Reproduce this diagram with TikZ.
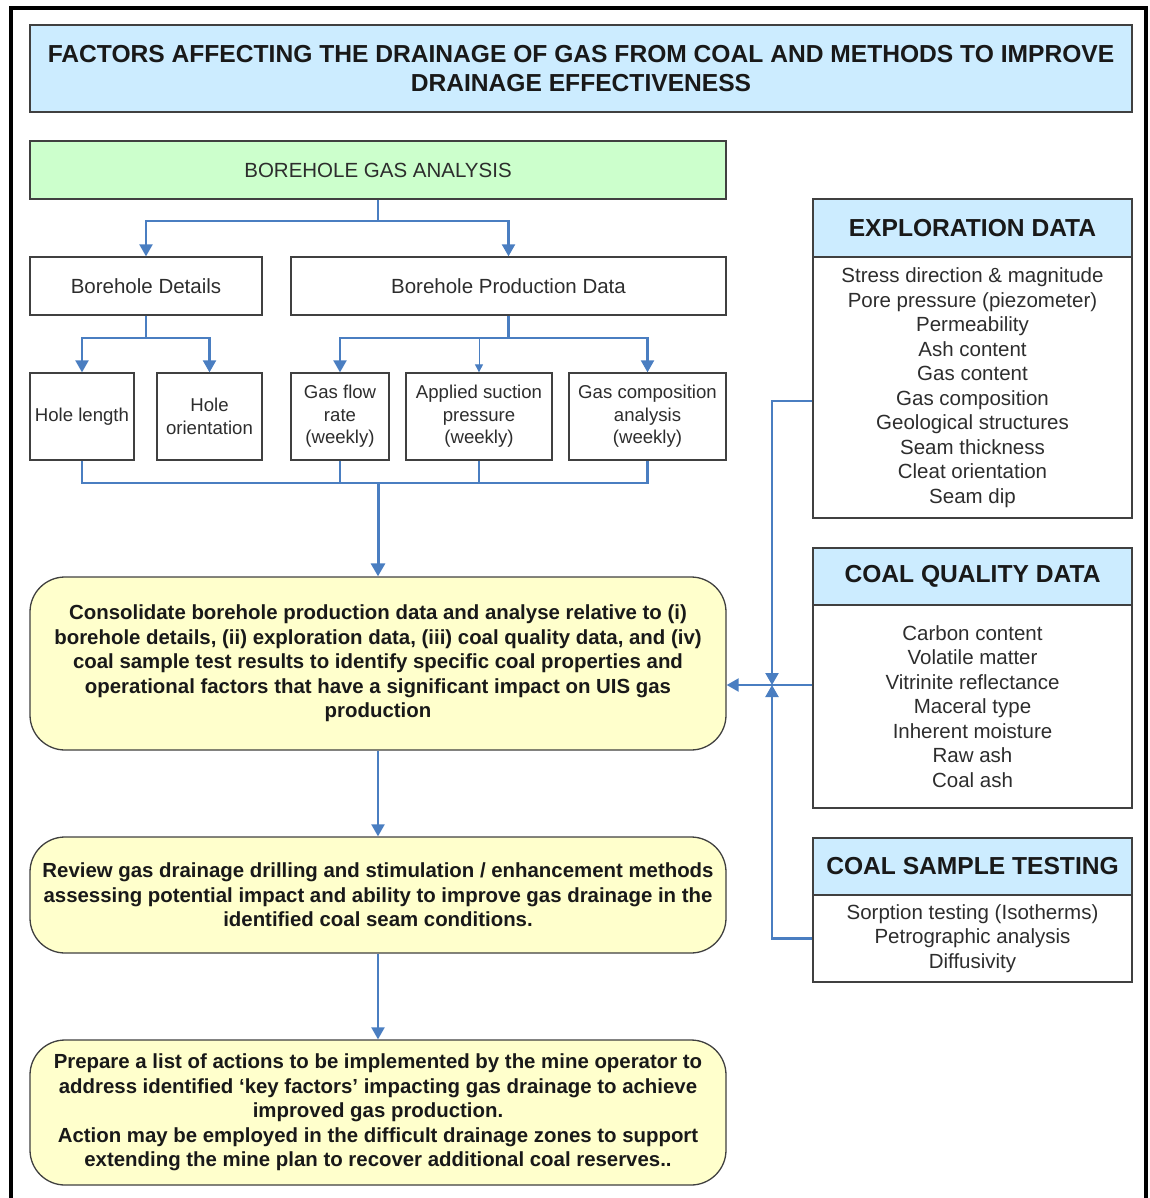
\documentclass[tikz,border=0pt]{standalone}
\usepackage{fontspec}
\setmainfont{Liberation Sans}
\usetikzlibrary{arrows.meta,calc}
\definecolor{hblue}{RGB}{204,236,255}
\definecolor{hgreen}{RGB}{204,255,204}
\definecolor{hyellow}{RGB}{255,255,204}
\definecolor{lblue}{RGB}{74,126,193}
\definecolor{bord}{RGB}{64,64,64}
\definecolor{txtreg}{RGB}{45,45,45}
\definecolor{txtbold}{RGB}{25,25,25}
\begin{document}
\begin{tikzpicture}[x=1pt,y=-1pt,
  box/.style={draw=bord, line width=1.3pt, inner sep=0pt, align=center, text=txtreg,
              font=\fontsize{20.5}{24.5}\selectfont},
  smallbox/.style={box, font=\fontsize{18.6}{22.5}\selectfont},
  headbox/.style={box, fill=hblue, text=txtbold, font=\fontsize{24.6}{29}\selectfont\bfseries},
  ybox/.style={box, fill=hyellow, rounded corners=35pt, text=txtbold,
               font=\fontsize{20.4}{24.5}\selectfont\bfseries},
  ln/.style={draw=lblue, line width=2.2pt},
  arr/.style={ln, -{Triangle[width=13pt,length=12pt]}},
  thinarr/.style={draw=lblue, line width=1pt, -{Triangle[width=8pt,length=8pt]}},
  thickarr/.style={draw=lblue, line width=3pt, -{Triangle[width=14pt,length=13pt]}}
]
\useasboundingbox (0,0) rectangle (1149,1198);
% outer frame
\draw[line width=3.5pt, black] (11,1210) -- (11,8) -- (1146,8) -- (1146,1210);

% title
\node[headbox, minimum width=1102pt, minimum height=87pt] (title) at (581,68.5)
  {FACTORS AFFECTING THE DRAINAGE OF GAS FROM COAL AND METHODS TO IMPROVE\\DRAINAGE EFFECTIVENESS};

% left column
\node[box, fill=hgreen, minimum width=696pt, minimum height=58pt] (green) at (378,170) {BOREHOLE GAS ANALYSIS};
\node[box, minimum width=232pt, minimum height=58pt] (BD) at (146,286) {Borehole Details};
\node[box, minimum width=435pt, minimum height=58pt] (BPD) at (508.5,286) {Borehole Production Data};

\node[smallbox, minimum width=104pt, minimum height=87pt] (HL) at (82,416.5) {Hole length};
\node[smallbox, minimum width=105pt, minimum height=87pt] (HO) at (209.5,416.5) {Hole\\orientation};
\node[smallbox, minimum width=98pt, minimum height=87pt] (GF) at (340,416.5) {Gas flow\\rate\\(weekly)};
\node[smallbox, minimum width=146pt, minimum height=87pt] (AS) at (479,416.5) {Applied suction\\pressure\\(weekly)};
\node[smallbox, minimum width=157pt, minimum height=87pt] (GC) at (647.5,416.5) {Gas composition\\analysis\\(weekly)};

\node[ybox, minimum width=696pt, minimum height=173pt] (Y1) at (378,663.5)
  {Consolidate borehole production data and analyse relative to (i)\\
   borehole details, (ii) exploration data, (iii) coal quality data, and (iv)\\
   coal sample test results to identify specific coal properties and\\
   operational factors that have a significant impact on UIS gas\\
   production};
\node[ybox, minimum width=696pt, minimum height=116pt] (Y2) at (378,895)
  {Review gas drainage drilling and stimulation / enhancement methods\\
   assessing potential impact and ability to improve gas drainage in the\\
   identified coal seam conditions.};
\node[ybox, minimum width=696pt, minimum height=145pt] (Y3) at (378,1112.5)
  {Prepare a list of actions to be implemented by the mine operator to\\
   address identified ‘key factors’ impacting gas drainage to achieve\\
   improved gas production.\\
   Action may be employed in the difficult drainage zones to support\\
   extending the mine plan to recover additional coal reserves..};

% right column
\node[headbox, minimum width=319pt, minimum height=58pt] (ExH) at (972.5,228) {EXPLORATION DATA};
\node[box, minimum width=319pt, minimum height=261pt] (ExB) at (972.5,387.5)
  {Stress direction \& magnitude\\Pore pressure (piezometer)\\Permeability\\Ash content\\Gas content\\Gas composition\\Geological structures\\Seam thickness\\Cleat orientation\\Seam dip};
\node[headbox, minimum width=319pt, minimum height=57pt] (CqH) at (972.5,576.5) {COAL QUALITY DATA};
\node[box, minimum width=319pt, minimum height=203pt] (CqB) at (972.5,706.5)
  {Carbon content\\Volatile matter\\Vitrinite reflectance\\Maceral type\\Inherent moisture\\Raw ash\\Coal ash};
\node[headbox, minimum width=319pt, minimum height=57pt] (CsH) at (972.5,866.5) {COAL SAMPLE TESTING};
\node[box, minimum width=319pt, minimum height=87pt] (CsB) at (972.5,938.5)
  {Sorption testing (Isotherms)\\Petrographic analysis\\Diffusivity};

% connectors top
\coordinate (j1) at ($(green.south)+(0,21)$);
\draw[ln] (green.south) -- (j1);
\draw[arr] (j1) -| (BD.north);
\draw[arr] (j1) -| (BPD.north);

\coordinate (j2) at ($(BD.south)+(0,22)$);
\draw[ln] (BD.south) -- (j2);
\draw[arr] (j2) -| (HL.north);
\draw[arr] (j2) -| (HO.north);

\coordinate (j3) at ($(BPD.south)+(0,22)$);
\draw[ln] (BPD.south) -- (j3);
\draw[arr] (j3) -| (GF.north);
\draw[arr] (j3) -| (GC.north);
\draw[thinarr] (AS.north |- j3) -- (AS.north);

% collecting line
\coordinate (j4) at ($(green.south)+(0,283)$);
\draw[ln] (HL.south) -- (HL.south |- j4) -- (GC.south |- j4) -- (GC.south);
\draw[ln] (GF.south) -- (GF.south |- j4);
\draw[ln] (AS.south) -- (AS.south |- j4);
\draw[thickarr] (j4) -- (Y1.north);

\draw[arr] (Y1.south) -- (Y2.north);
\draw[arr] (Y2.south) -- (Y3.north);

% right connectors
\coordinate (j5) at (772,685);
\draw[arr] ($(ExB.west)+(0,13.5)$) -| (j5);
\draw[arr] (CsB.west) -| (j5);
\draw[arr] (CqB.west |- j5) -- (Y1.east |- j5);
\end{tikzpicture}
\end{document}
